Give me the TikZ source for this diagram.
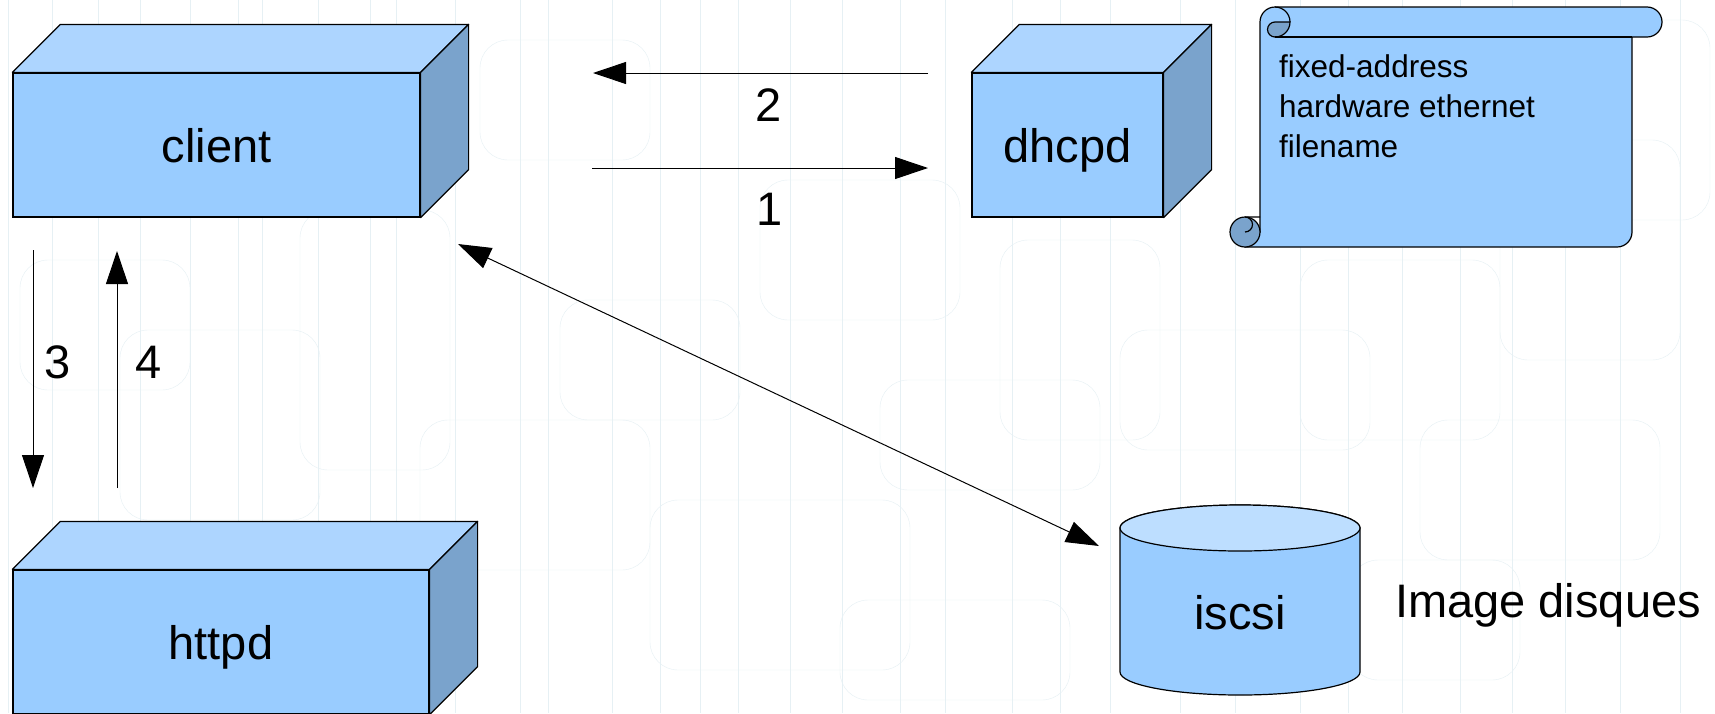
\documentclass[tikz,border=0pt]{standalone}
\usepackage{fontspec}
\setmainfont{Liberation Sans}
\usetikzlibrary{arrows.meta,positioning}

\definecolor{boxfront}{HTML}{99CCFF}
\definecolor{boxtop}{HTML}{ADD5FF}
\definecolor{boxside}{HTML}{7AA3CC}
\definecolor{cyltop}{HTML}{BDDEFF}
\definecolor{bgline}{HTML}{E6F0F4}

\tikzset{
  lbl/.style={inner sep=0pt, text height=40pt, text depth=6pt, font=\fontsize{47}{56}\selectfont},
  box3d/.style={lbl, draw, fill=boxfront, line width=1.2pt},
  topface/.style={draw, fill=boxtop, line width=1.2pt, line join=round},
  sideface/.style={draw, fill=boxside, line width=1.2pt, line join=round},
  scroll/.style={draw, fill=boxfront, line width=1.2pt, line join=round},
  curl/.style={draw, fill=boxside, line width=1.2pt},
  msg/.style={line width=1pt, -{Triangle[length=33pt,width=22pt]}},
  num/.style={inner sep=0pt, font=\fontsize{47}{56}\selectfont},
  conftext/.style={inner sep=0pt, align=left, font=\fontsize{31.5}{40}\selectfont},
}

\begin{document}
\begin{tikzpicture}[x=1pt,y=-1pt]
\useasboundingbox (0,0) rectangle (1715,713);
\clip (0,0) rectangle (1715,713);

% background
\fill[white] (0,0) rectangle (1715,713);
\foreach \x in {8,52,98,140,190,238,262,318,370,396,455,520,548,612,660,700,738,790,842,900,945,1012,1060,1110,1180,1235,1300,1348,1402,1460,1512,1565,1620,1680}
  \draw[bgline] (\x,0) -- (\x,713);
\foreach \x/\y/\w/\h in {20/260/170/130, 120/330/200/190, 300/210/150/260, 420/420/230/150, 560/300/180/120,
    650/500/260/170, 760/180/200/140, 880/380/220/110, 1000/240/160/200, 1120/330/250/120,
    1300/260/200/180, 1420/420/240/140, 1500/140/180/220, 250/560/200/140, 840/600/230/100,
    60/40/160/110, 480/40/170/120, 1350/560/170/120, 1580/20/130/200}
  \draw[bgline, rounded corners=28pt] (\x,\y) rectangle ++(\w,\h);

% boxes
\node[box3d, minimum width=407pt, minimum height=144pt] (client) at (216.5,145) {client};
\node[box3d, minimum width=191pt, minimum height=144pt] (dhcpd) at (1067.5,145) {dhcpd};
\node[box3d, minimum width=416pt, minimum height=144pt] (httpd) at (221,642) {httpd};
\foreach \b in {client,dhcpd,httpd} {
  \draw[topface] (\b.north west) -- ++(48,-48) -- ([shift={(48,-48)}]\b.north east) -- (\b.north east) -- cycle;
  \draw[sideface] (\b.north east) -- ++(48,-48) -- ([shift={(48,-48)}]\b.south east) -- (\b.south east) -- cycle;
}

% scroll
\draw[scroll] (1245,247) -- (1617,247) arc[start angle=90,end angle=0,radius=15] -- (1632,37) -- (1647,37)
  arc[start angle=90,end angle=-90,radius=15] -- (1275,7) arc[start angle=270,end angle=180,radius=15] -- (1260,232) -- cycle;
\draw[curl] (1290,22) arc[start angle=0,end angle=90,radius=15] arc[start angle=90,end angle=270,radius=7.5] -- cycle;
\draw[line width=1.2pt] (1275,7) arc[start angle=270,end angle=360,radius=15];
\draw[line width=1.2pt] (1275,37) -- (1632,37);
\draw[curl] (1245,232) circle[radius=15];
\draw[line width=1.2pt] (1245,217) arc[start angle=270,end angle=450,radius=7.5] (1245,217) -- (1260,217);
\node[conftext, anchor=base west] (conf) at (1279,157) {fixed-address\\hardware ethernet\\filename};

% disk
\draw[scroll] (1120,528) -- (1120,672) arc[start angle=180,end angle=0,x radius=120,y radius=23]
  -- (1360,528) arc[start angle=0,end angle=-180,x radius=120,y radius=23] -- cycle;
\draw[scroll, fill=cyltop] (1240,528) ellipse[x radius=120,y radius=23];
\node[lbl] (iscsi) at (1240,612) {iscsi};
\node[lbl, anchor=west] (imgdisk) at (1395,600) {Image disques};

% messages
\coordinate (d2s) at (928,73);  \coordinate (d2e) at (593,73);
\coordinate (d1s) at (592,168); \coordinate (d1e) at (928,168);
\coordinate (h3s) at (33,250);  \coordinate (h3e) at (33,488);
\coordinate (h4s) at (117,488); \coordinate (h4e) at (117,251);
\coordinate (is1) at (458,244); \coordinate (is2) at (1099,546);
\path[msg]
  (d2s) edge node[num, below=15pt, xshift=8pt] {2} (d2e)
  (d1s) edge node[num, below=25pt, xshift=10pt] {1} (d1e)
  (h3s) edge node[num, right=11pt, yshift=7pt] {3} (h3e)
  (h4s) edge node[num, right=18pt, yshift=7pt] {4} (h4e)
  (is1) edge[{Triangle[length=33pt,width=22pt]}-{Triangle[length=33pt,width=22pt]}] (is2);
\end{tikzpicture}
\end{document}
